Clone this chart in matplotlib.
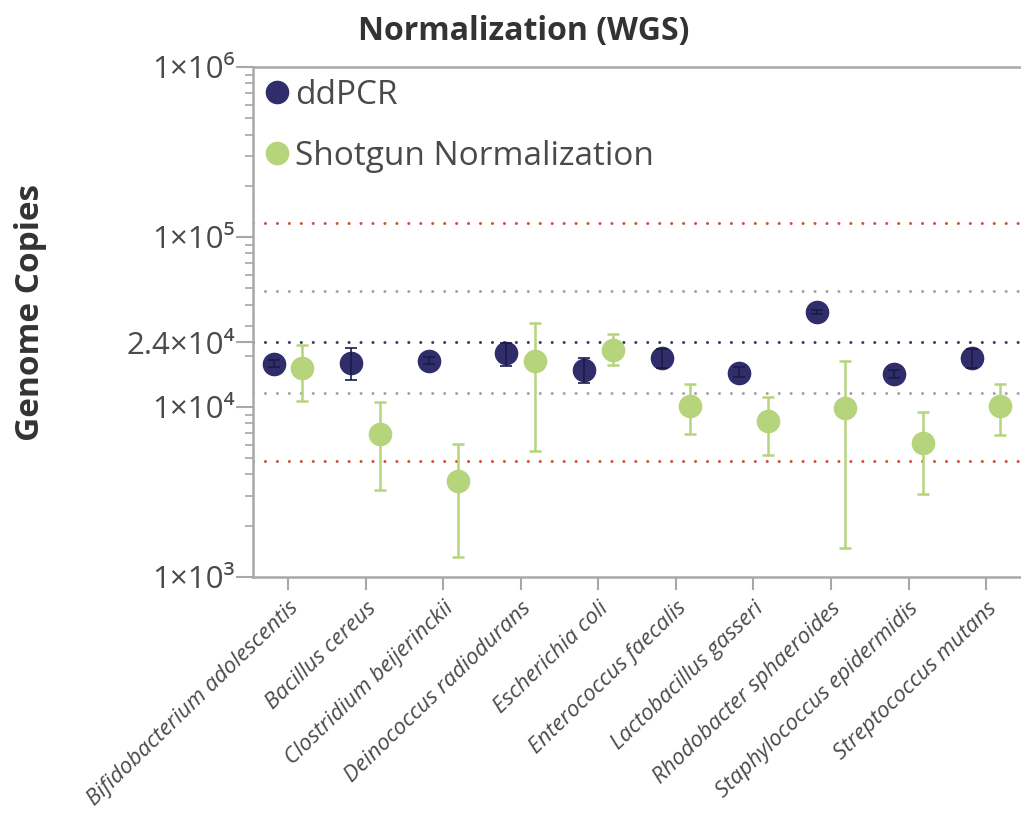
import numpy as np
from matplotlib import pyplot as plt
from matplotlib.lines import Line2D
from matplotlib.ticker import FixedLocator, LogLocator, NullFormatter

plt.rcParams['font.family'] = ['Open Sans', 'Noto Sans', 'DejaVu Sans']

categories = ['Bifidobacterium adolescentis', 'Bacillus cereus', 'Clostridium beijerinckii',
              'Deinococcus radiodurans', 'Escherichia coli', 'Enterococcus faecalis',
              'Lactobacillus gasseri', 'Rhodobacter sphaeroides', 'Staphylococcus epidermidis',
              'Streptococcus mutans']

# ddPCR: value, lower and upper end of the error bar
ddpcr = [17900, 18100, 18700, 20700, 16500, 19300, 15900, 36100, 15600, 19500]
ddpcr_lo = [17100, 14400, 17800, 17300, 13800, 17000, 14900, 35200, 14800, 17000]
ddpcr_hi = [18900, 22100, 19700, 23900, 19500, 22000, 17100, 37000, 16500, 22000]

# shotgun normalization
shotgun = [16900, 6930, 3640, 18500, 21600, 10100, 8280, 9900, 6170, 10100]
shotgun_lo = [10900, 3250, 1310, 5530, 17700, 6900, 5220, 1470, 3060, 6840]
shotgun_hi = [23000, 10700, 6040, 31300, 26800, 13600, 11500, 18700, 9370, 13600]

target = 24000
ref_lines = [(target * 5, '#c8553d'), (target * 2, '#a3a3ab'), (target, '#3c3a6c'),
             (target / 2, '#a3a3ab'), (target / 5, '#c8553d')]

ytick_values = [1e3, 1e4, 2.4e4, 1e5, 1e6]
ytick_labels = ['1×10³', '1×10⁴', '2.4×10⁴', '1×10⁵', '1×10⁶']

NAVY = '#302d6b'
GREEN = '#b5d47c'
AXIS_GRAY = '#a8a8a8'
TEXT_GRAY = '#4a4a4a'


def draw_series(ax, x, values, lo, hi, color, bar_color, bar_width, bar_on_top):
    values = np.array(values, dtype=float)
    yerr = [values - np.array(lo), np.array(hi) - values]
    ax.plot(x, values, 'o', color=color, markersize=16, zorder=3)
    ax.errorbar(x, values, yerr=yerr, fmt='none', ecolor=bar_color, elinewidth=bar_width,
                capsize=4.5, capthick=bar_width, zorder=4 if bar_on_top else 2)


def main():
    fig = plt.figure(figsize=(10.21, 8.17), dpi=100)
    ax = fig.add_axes([0.248, 0.294, 0.752, 0.624])

    x = np.arange(len(categories))
    for value, color in ref_lines:
        ax.axhline(value, color=color, linewidth=2.2, linestyle=(0, (0.01, 3.9)),
                   dash_capstyle='round', zorder=1)

    draw_series(ax, x - 0.185, ddpcr, ddpcr_lo, ddpcr_hi, NAVY, '#1c1a45', 1.2, True)
    draw_series(ax, x + 0.185, shotgun, shotgun_lo, shotgun_hi, GREEN, GREEN, 1.8, False)

    ax.set_yscale('log')
    ax.set_ylim(1e3, 1e6)
    ax.set_xlim(-0.45, 9.45)

    ax.yaxis.set_major_locator(FixedLocator(ytick_values))
    ax.set_yticklabels(ytick_labels)
    ax.yaxis.set_minor_locator(LogLocator(base=10, subs=np.arange(2, 10)))
    ax.yaxis.set_minor_formatter(NullFormatter())
    ax.tick_params(axis='y', which='major', length=12, width=1.5, color=AXIS_GRAY,
                   labelsize=22.5, labelcolor=TEXT_GRAY, pad=1)
    ax.tick_params(axis='y', which='minor', length=6, width=1.2, color=AXIS_GRAY)

    ax.set_xticks(x)
    ax.set_xticklabels(categories, rotation=44, ha='right', rotation_mode='anchor',
                       fontstyle='italic', fontsize=16, color=TEXT_GRAY)
    ax.tick_params(axis='x', length=9, width=1.5, color=AXIS_GRAY, pad=6)

    for side in ['left', 'bottom', 'top']:
        ax.spines[side].set_color(AXIS_GRAY)
        ax.spines[side].set_linewidth(1.8)
    ax.spines['right'].set_visible(False)

    handles = [Line2D([], [], marker='o', linestyle='none', color=NAVY, markersize=16),
               Line2D([], [], marker='o', linestyle='none', color=GREEN, markersize=16)]
    leg = ax.legend(handles, ['ddPCR', 'Shotgun Normalization'], loc='upper left',
                    frameon=False, fontsize=24, labelspacing=0.85, handlelength=0.7,
                    handletextpad=0.2, borderaxespad=0.1, borderpad=0.25)
    for text in leg.get_texts():
        text.set_color(TEXT_GRAY)

    fig.text(0.513, 0.962, 'Normalization (WGS)', ha='center', va='center',
             fontsize=23, fontweight='bold', color='#333333')
    fig.text(0.030, 0.617, 'Genome Copies', ha='center', va='center', rotation=90,
             fontsize=24, fontweight='bold', color='#333333')

    fig.savefig('out.png', dpi=100)


if __name__ == "__main__":
    main()
